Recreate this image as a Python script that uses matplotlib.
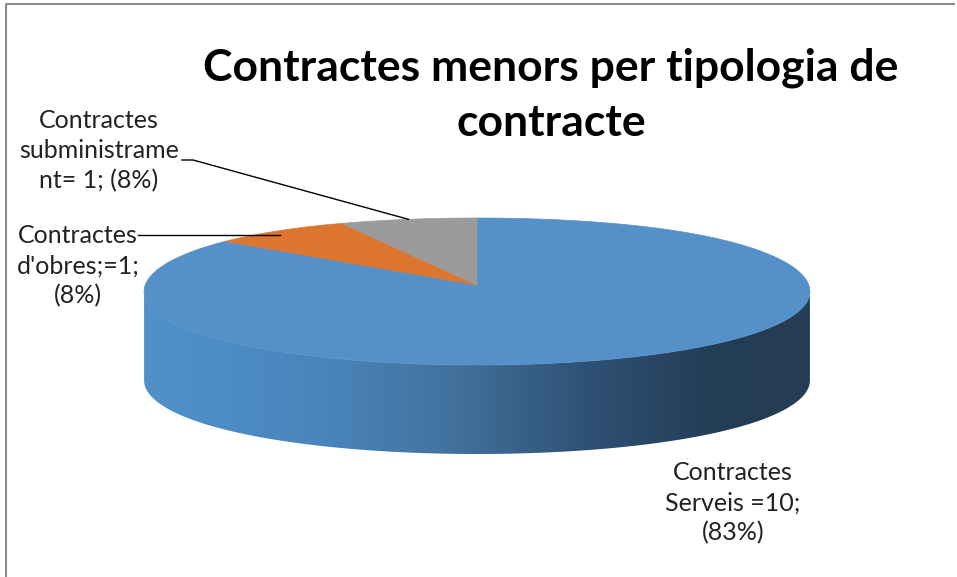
import numpy as np
import matplotlib
matplotlib.use("Agg")
from matplotlib import pyplot as plt
from matplotlib.patches import Polygon
from matplotlib.colors import LinearSegmentedColormap

#### Dades
categories = ["Contractes Serveis", "Contractes d'obres", "Contractes subministrament"]
valors = [10, 1, 1]
etiquetes = ["Contractes\nServeis =10;\n(83%)",
             "Contractes\nd'obres;=1;\n(8%)",
             "Contractes\nsubministrame\nnt= 1; (8%)"]
colors = ["#5590C9", "#DC762F", "#9B9B9B"]
titol = "Contractes menors per tipologia de\ncontracte"

plt.rcParams['font.family'] = ['Lato', 'DejaVu Sans']

fig = plt.figure(figsize=(9.57, 5.77), dpi=100)
ax = fig.add_axes([0, 0, 1, 1])
ax.set_xlim(0, 957)
ax.set_ylim(577, 0)
ax.axis('off')

# marc (només dalt i esquerra, la captura està retallada)
ax.plot([6, 6, 955], [577, 4, 4], color='#8C8C8C', lw=1.5, solid_capstyle='butt')

#### geometria del pastís 3D (píxels), perspectiva aproximada
cx = 477
centre_y = 285
R = 324
k = 0.23
A, B, C = 273.6, 73.5, 17.9
gruix = 89

def punt(theta, dy=0.0):
    c, s = np.cos(theta), np.sin(theta)
    x = cx + R * s / (1 + k * c)
    y = A - B * c + C * c ** 2 + dy
    return x, y

total = sum(valors)
angles = np.concatenate([[0], np.cumsum(valors) / total * 2 * np.pi])

# lateral (només la part de davant, tot blau) amb degradat
grad = LinearSegmentedColormap.from_list('lat', [
    (0.0, '#5191CA'), (0.25, '#4A86BE'), (0.45, '#4374A0'),
    (0.68, '#2D4F72'), (0.85, '#243E57'), (1.0, '#243D54')])
t0 = np.arccos(-k)          # punts on la silueta és vertical
th = np.linspace(t0, 2 * np.pi - t0, 400)
xs, ys = punt(th)
xb, yb = punt(th, gruix)
lateral = Polygon(list(zip(xs, ys)) + list(zip(xb[::-1], yb[::-1])),
                  closed=True, fc='none', ec='none')
ax.add_patch(lateral)
xmin, xmax = xs.min(), xs.max()
img = ax.imshow(np.linspace(0, 1, 256)[None, :], cmap=grad, aspect='auto',
                extent=(xmin - 1, xmax + 1, yb.max() + 2, ys.min() - 2),
                interpolation='bilinear', zorder=1)
img.set_clip_path(lateral)
ax.set_xlim(0, 957)
ax.set_ylim(577, 0)

# cara de dalt
for i in range(len(valors)):
    t = np.linspace(angles[i], angles[i + 1], 200)
    px, py = punt(t)
    pts = [(cx, centre_y)] + list(zip(px, py))
    ax.add_patch(Polygon(pts, closed=True, fc=colors[i], ec=colors[i], lw=0.5, zorder=2))

# títol
ax.text(551, 95, titol, ha='center', va='center', fontsize=32,
        fontweight='bold', color='black', linespacing=1.45)

# etiquetes i línies guia
ax.text(733, 503, etiquetes[0], ha='center', va='center', fontsize=18,
        color='#222222', linespacing=1.36)
ax.text(78, 266, etiquetes[1], ha='center', va='center', fontsize=18,
        color='#222222', linespacing=1.36)
ax.text(99, 151, etiquetes[2], ha='center', va='center', fontsize=18,
        color='#222222', linespacing=1.36)

mid_obres = (angles[1] + angles[2]) / 2
mx, my = punt(mid_obres)
ax.plot([138, float(mx)], [235, 235], color='black', lw=1, zorder=3)

mid_sub = (angles[2] + angles[3]) / 2
mx, my = punt(mid_sub)
ax.plot([182, 193, float(mx)], [160, 160, float(my)], color='black', lw=1, zorder=3)

plt.savefig("out.png", dpi=100)
